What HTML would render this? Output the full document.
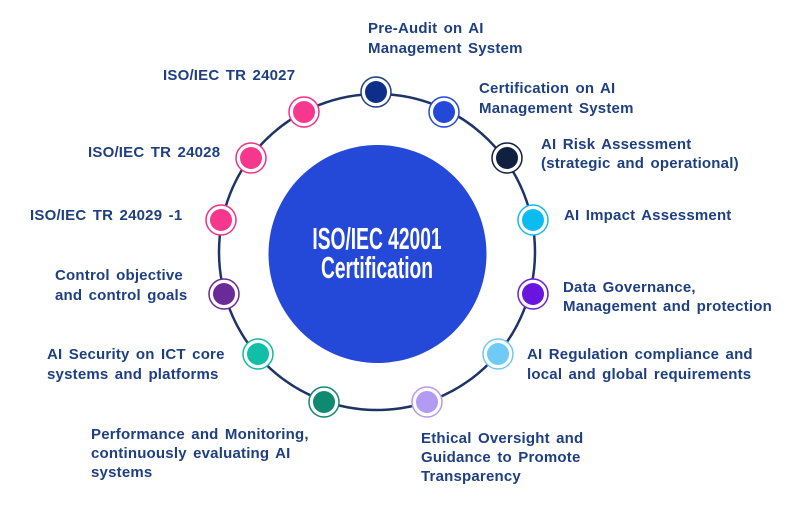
<!DOCTYPE html>
<html><head><meta charset="utf-8"><style>
html,body{margin:0;padding:0;background:#fff}
svg{display:block}
.t{font-family:"Liberation Sans",Arial,sans-serif;font-weight:bold;font-size:15px;fill:#1e3f80;letter-spacing:0.2px;word-spacing:2px}
</style></head><body>
<svg width="800" height="512" viewBox="0 0 800 512" xmlns="http://www.w3.org/2000/svg">
<circle cx="377" cy="252" r="158" fill="none" stroke="#1e3466" stroke-width="2.5"/>
<circle cx="377.5" cy="254" r="109" fill="#2448d8"/>
<g font-family="'Liberation Sans Narrow','Liberation Sans',sans-serif" font-weight="bold" font-size="31" fill="#fff" text-anchor="middle">
<text x="377" y="249" transform="translate(377 0) scale(0.62 1) translate(-377 0)">ISO/IEC 42001</text>
<text x="377" y="278" transform="translate(377 0) scale(0.62 1) translate(-377 0)">Certification</text>
</g>
<g stroke-width="1.5" fill="#fff">
<circle cx="376" cy="92" r="15" stroke="#1e3f80"/>
<circle cx="444" cy="112" r="15" stroke="#2448d8"/>
<circle cx="507" cy="158" r="15" stroke="#0f2040"/>
<circle cx="533" cy="220" r="15" stroke="#1ab8ea"/>
<circle cx="533" cy="294" r="15" stroke="#6c1ed8"/>
<circle cx="498" cy="354" r="15" stroke="#6fc8f0"/>
<circle cx="427" cy="402" r="15" stroke="#b59af0"/>
<circle cx="324" cy="402" r="15" stroke="#108a70"/>
<circle cx="258" cy="354" r="15" stroke="#14b8a0"/>
<circle cx="224" cy="294" r="15" stroke="#6a2a90"/>
<circle cx="221" cy="220" r="15" stroke="#f03088"/>
<circle cx="251" cy="158" r="15" stroke="#f03088"/>
<circle cx="304" cy="112" r="15" stroke="#f03088"/>
</g>
<circle cx="376" cy="92" r="11" fill="#0d2f8a"/>
<circle cx="444" cy="112" r="11" fill="#2448d8"/>
<circle cx="507" cy="158" r="11" fill="#0f2040"/>
<circle cx="533" cy="220" r="11" fill="#0cbcf0"/>
<circle cx="533" cy="294" r="11" fill="#6a14e0"/>
<circle cx="498" cy="354" r="11" fill="#6fcaf6"/>
<circle cx="427" cy="402" r="11" fill="#b39af2"/>
<circle cx="324" cy="402" r="11" fill="#0f8a70"/>
<circle cx="258" cy="354" r="11" fill="#10bfa5"/>
<circle cx="224" cy="294" r="11" fill="#6a2a98"/>
<circle cx="221" cy="220" r="11" fill="#f5388e"/>
<circle cx="251" cy="158" r="11" fill="#f5388e"/>
<circle cx="304" cy="112" r="11" fill="#f5388e"/>
<g class="t">
<text x="368" y="33">Pre-Audit on AI</text><text x="368" y="53">Management System</text>
<text x="163" y="80">ISO/IEC TR 24027</text>
<text x="479" y="93">Certification on AI</text><text x="479" y="113">Management System</text>
<text x="541" y="149">AI Risk Assessment</text><text x="541" y="168">(strategic and operational)</text>
<text x="88" y="157">ISO/IEC TR 24028</text>
<text x="564" y="220">AI Impact Assessment</text>
<text x="30" y="220">ISO/IEC TR 24029 -1</text>
<text x="55" y="280">Control objective</text><text x="55" y="300">and control goals</text>
<text x="563" y="292">Data Governance,</text><text x="563" y="311">Management and protection</text>
<text x="47" y="359">AI Security on ICT core</text><text x="47" y="379">systems and platforms</text>
<text x="527" y="359">AI Regulation compliance and</text><text x="527" y="379">local and global requirements</text>
<text x="91" y="439">Performance and Monitoring,</text><text x="91" y="458">continuously evaluating AI</text><text x="91" y="477">systems</text>
<text x="421" y="443">Ethical Oversight and</text><text x="421" y="462">Guidance to Promote</text><text x="421" y="481">Transparency</text>
</g>
</svg>
</body></html>
